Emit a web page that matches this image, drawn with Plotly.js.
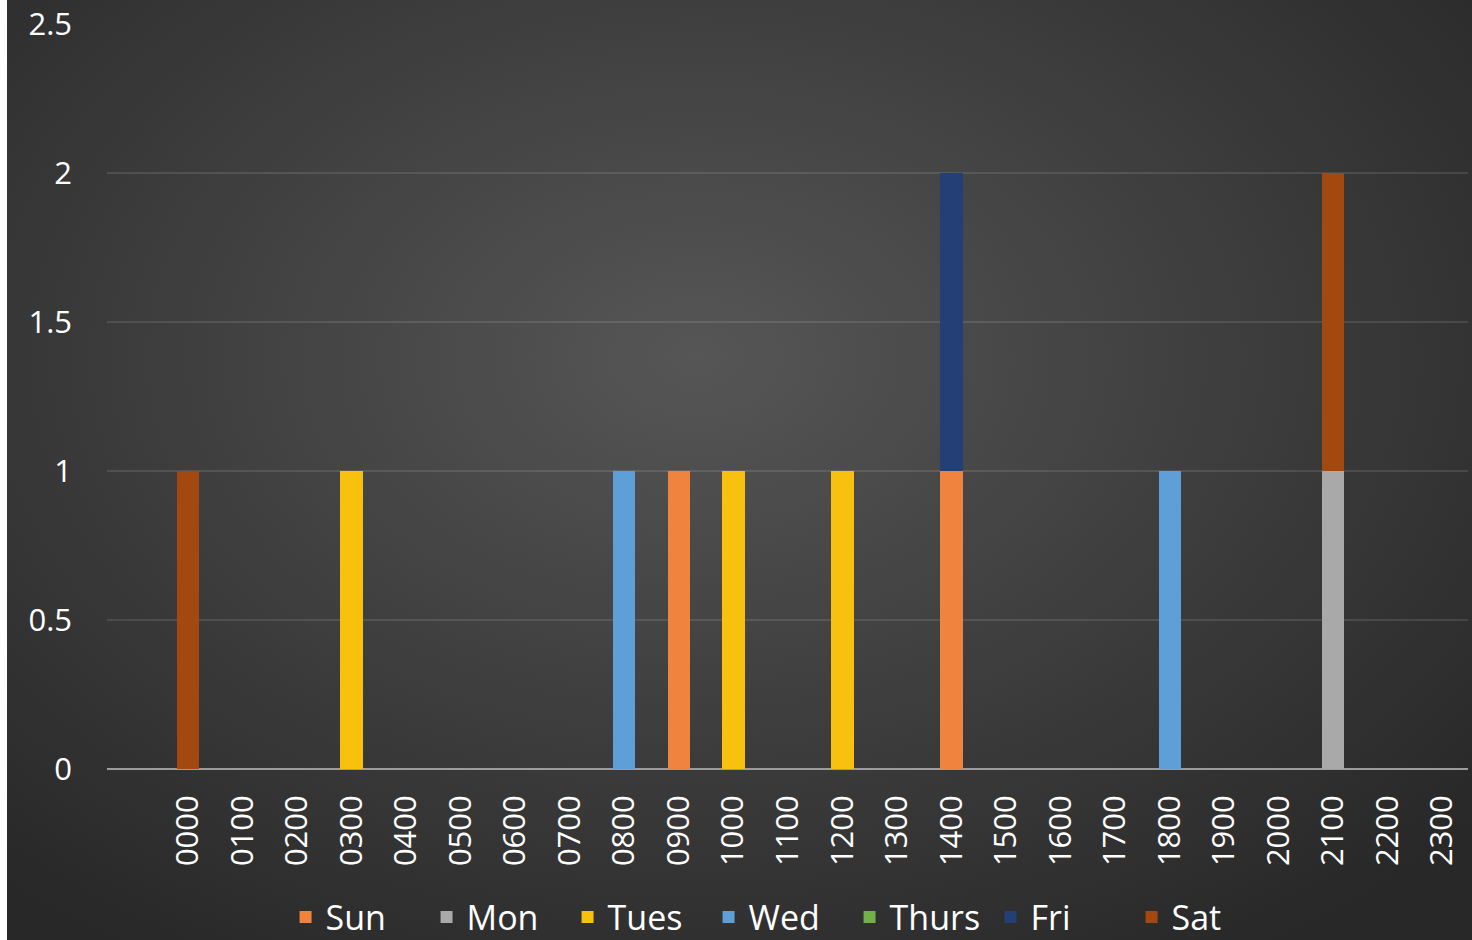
<!DOCTYPE html>
<html>
<head>
<meta charset="utf-8">
<script src="https://cdn.plot.ly/plotly-3.0.1.min.js"></script>
<style>
  html, body { margin: 0; padding: 0; background: #ffffff; }
  #wrap { position: absolute; left: 7px; top: 0; width: 1465px; height: 940px;
    background: radial-gradient(ellipse 70% 75% at 47% 38%, #565656 0%, #3a3a3a 60%, #282828 100%); }
  #chart { width: 1465px; height: 940px; }
</style>
</head>
<body>
<div id="wrap"><div id="chart"></div></div>
<script>
const hours = ["0000","0100","0200","0300","0400","0500","0600","0700","0800","0900","1000","1100",
               "1200","1300","1400","1500","1600","1700","1800","1900","2000","2100","2200","2300"];
const sun   = [0,0,0,0,0,0,0,0,0,1,0,0,0,0,1,0,0,0,0,0,0,0,0,0];
const mon   = [0,0,0,0,0,0,0,0,0,0,0,0,0,0,0,0,0,0,0,0,0,1,0,0];
const tues  = [0,0,0,1,0,0,0,0,0,0,1,0,1,0,0,0,0,0,0,0,0,0,0,0];
const wed   = [0,0,0,0,0,0,0,0,1,0,0,0,0,0,0,0,0,0,1,0,0,0,0,0];
const thurs = [0,0,0,0,0,0,0,0,0,0,0,0,0,0,0,0,0,0,0,0,0,0,0,0];
const fri   = [0,0,0,0,0,0,0,0,0,0,0,0,0,0,1,0,0,0,0,0,0,0,0,0];
const sat   = [1,0,0,0,0,0,0,0,0,0,0,0,0,0,0,0,0,0,0,0,0,1,0,0];
const seriesNames = ["Sun","Mon","Tues","Wed","Thurs","Fri","Sat"];
const seriesValues = [sun, mon, tues, wed, thurs, fri, sat];
const seriesColors = ["#F0843F","#A9A9A9","#F7C10E","#5F9FD8","#72B04A","#233F74","#A3480F"];

const xIdx = hours.map((h, i) => i);
const traces = seriesNames.map((name, k) => ({
  type: "bar",
  name: name,
  x: xIdx,
  y: seriesValues[k],
  width: 0.41,
  marker: { color: seriesColors[k], line: { width: 0 } },
  hoverinfo: "x+y+name"
}));

const font = { family: "Open Sans, Noto Sans, sans-serif", color: "#ffffff", size: 31 };

const layout = {
  barmode: "stack",
  paper_bgcolor: "rgba(0,0,0,0)",
  plot_bgcolor: "rgba(0,0,0,0)",
  width: 1465, height: 940,
  margin: { l: 100, r: 4, t: 24, b: 171 },
  font: font,
  showlegend: true,
  legend: {
    orientation: "h", xref: "container", x: 0.527, xanchor: "center",
    yref: "container", y: 0.024, yanchor: "middle",
    font: { family: "Open Sans, Noto Sans, sans-serif", color: "#ffffff", size: 34 },
    itemwidth: 30, entrywidth: 96, entrywidthmode: "pixels",
    traceorder: "normal", bgcolor: "rgba(0,0,0,0)"
  },
  xaxis: {
    type: "linear",
    range: [-1.485, 23.47],
    tickmode: "array", tickvals: xIdx, ticktext: hours,
    tickangle: -90,
    showgrid: false, zeroline: false, showline: false, ticks: "",
    ticklabelstandoff: 19,
    tickfont: font,
    fixedrange: true
  },
  yaxis: {
    range: [0, 2.5],
    tickvals: [0, 0.5, 1, 1.5, 2, 2.5],
    ticktext: ["0", "0.5", "1", "1.5", "2", "2.5"],
    showgrid: true, gridcolor: "rgba(255,255,255,0.11)", gridwidth: 1.5,
    zeroline: true, zerolinecolor: "#9c9c9c", zerolinewidth: 2.5,
    showline: false, ticks: "",
    ticklabelstandoff: 34,
    tickfont: font,
    fixedrange: true
  }
};

Plotly.newPlot("chart", traces, layout, { displayModeBar: false, staticPlot: true });
</script>
</body>
</html>
